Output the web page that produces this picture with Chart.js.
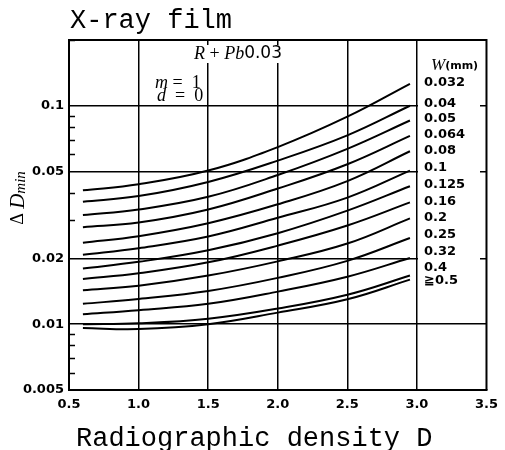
<!DOCTYPE html>
<html lang="en">
<head>
<meta charset="UTF-8">
<title>X-ray film</title>
<script src="https://cdn.jsdelivr.net/npm/chart.js"></script>
<style>
  html, body { margin: 0; padding: 0; background: #fff; }
</style>
</head>
<body>
<canvas id="chart" width="505" height="450"></canvas>
<script>
// radiographic density D where each curve was read
const density = [0.6, 1.0, 1.5, 2.0, 2.5, 2.95];

// Delta Dmin for each wire diameter W (mm)
const w0032 = [0.0410, 0.0437, 0.0505, 0.0647, 0.0891, 0.126];
const w004  = [0.0364, 0.0386, 0.0448, 0.0561, 0.0732, 0.100];
const w005  = [0.0316, 0.0335, 0.0383, 0.0482, 0.0635, 0.0856];
const w0064 = [0.0278, 0.0292, 0.0335, 0.0418, 0.0540, 0.0728];
const w008  = [0.0236, 0.0253, 0.0290, 0.0354, 0.0452, 0.0619];
const w01   = [0.0208, 0.0223, 0.0252, 0.0307, 0.0380, 0.0505];
const w0125 = [0.0180, 0.0193, 0.0218, 0.0261, 0.0331, 0.0428];
const w016  = [0.0161, 0.0171, 0.0192, 0.0229, 0.0283, 0.0361];
const w02   = [0.0143, 0.0150, 0.0167, 0.0194, 0.0234, 0.0305];
const w025  = [0.0124, 0.01305, 0.0142, 0.0163, 0.0195, 0.0248];
const w032  = [0.0111, 0.0116, 0.0124, 0.0141, 0.0165, 0.0201];
const w04   = [0.0100, 0.0101, 0.0106, 0.0118, 0.01365, 0.0167];
const w05   = [0.0096, 0.0095, 0.0100, 0.0113, 0.0130, 0.0160];

const seriesValues = [w0032, w004, w005, w0064, w008, w01, w0125, w016, w02, w025, w032, w04, w05];
const wireLabels = ['0.032', '0.04', '0.05', '0.064', '0.08', '0.1', '0.125', '0.16', '0.2', '0.25', '0.32', '0.4', '≧0.5'];

const xTicks = [0.5, 1.0, 1.5, 2.0, 2.5, 3.0, 3.5];
const yTicks = [0.005, 0.01, 0.02, 0.05, 0.1];
const yTickLabels = ['0.005', '0.01', '0.02', '0.05', '0.1'];
const yMinor = [0.006, 0.007, 0.008, 0.009, 0.03, 0.04, 0.06, 0.07, 0.08, 0.09, 0.2];

// label column placement (pixels)
const labelX = 424;
const labelY = [83, 104, 119, 135, 151, 168, 185, 202, 218, 235, 252, 268, 281];

const tickFont = { family: 'DejaVu Sans', size: 13, weight: 'bold' };

function drawParts(ctx, parts, x, y) {
  let cx = x;
  parts.forEach(p => {
    ctx.font = p.f;
    ctx.fillText(p.t, cx, y + (p.dy || 0));
    cx += ctx.measureText(p.t).width;
  });
  return cx - x;
}
function partsWidth(ctx, parts) {
  let w = 0;
  parts.forEach(p => { ctx.font = p.f; w += ctx.measureText(p.t).width; });
  return w;
}

const decor = {
  id: 'decor',
  afterDraw(chart) {
    const { ctx, chartArea: a, scales: { y } } = chart;
    ctx.save();
    ctx.strokeStyle = '#000';

    // blank column for the W labels (gridlines stop there)
    ctx.fillStyle = '#fff';
    ctx.fillRect(418, 60, 62, 237);

    // top and right frame
    ctx.lineWidth = 2;
    ctx.beginPath();
    ctx.moveTo(a.left, a.top);
    ctx.lineTo(a.right, a.top);
    ctx.lineTo(a.right, a.bottom);
    ctx.stroke();

    // minor ticks on the left axis
    ctx.lineWidth = 1.5;
    yMinor.forEach(v => {
      const py = Math.round(y.getPixelForValue(v)) + 0.5;
      ctx.beginPath();
      ctx.moveTo(a.left, py);
      ctx.lineTo(a.left + 6, py);
      ctx.stroke();
    });

    ctx.fillStyle = '#000';
    ctx.textBaseline = 'middle';
    ctx.textAlign = 'left';

    // W labels
    ctx.font = 'bold 13px "DejaVu Sans"';
    wireLabels.forEach((t, i) => ctx.fillText(t, labelX, labelY[i]));

    // W (mm) heading
    drawParts(ctx, [
      { t: 'W', f: 'italic 17px "Liberation Serif"' },
      { t: '(mm)', f: 'bold 11px "DejaVu Sans"' }
    ], 431, 66);

    // R + Pb0.03 with white backing
    const rp = [
      { t: 'R', f: 'italic 18px "Liberation Serif"' },
      { t: ' + ', f: '18px "Liberation Serif"' },
      { t: 'Pb', f: 'italic 18px "Liberation Serif"' },
      { t: '0.03', f: '17px "DejaVu Sans"' }
    ];
    const rw = partsWidth(ctx, rp);
    ctx.fillStyle = '#fff';
    ctx.fillRect(238 - rw / 2 - 2, 45, rw + 4, 18);
    ctx.fillStyle = '#000';
    drawParts(ctx, rp, 238 - rw / 2, 54);

    // m = 1, d = 0
    drawParts(ctx, [
      { t: 'm', f: 'italic 18px "Liberation Serif"' },
      { t: ' =  1', f: '18px "Liberation Serif"' }
    ], 155, 83);
    drawParts(ctx, [
      { t: 'd', f: 'italic 18px "Liberation Serif"' },
      { t: '  =  0', f: '18px "Liberation Serif"' }
    ], 157, 96);

    // titles
    ctx.textBaseline = 'alphabetic';
    ctx.font = '27px "Liberation Mono"';
    ctx.fillText('X-ray film', 70, 28);
    ctx.fillText('Radiographic density D', 76, 446);

    // y axis title, rotated
    ctx.translate(18, 198);
    ctx.rotate(-Math.PI / 2);
    const yt = [
      { t: 'Δ ', f: '18px "Liberation Serif"' },
      { t: 'D', f: 'italic 21px "Liberation Serif"' },
      { t: 'min', f: 'italic 15px "Liberation Serif"', dy: 3 }
    ];
    const yw = partsWidth(ctx, yt);
    ctx.textBaseline = 'middle';
    drawParts(ctx, yt, -yw / 2, 0);

    ctx.restore();
  }
};

const datasets = seriesValues.map((vals, i) => ({
  label: wireLabels[i],
  data: density.map((d, j) => ({ x: d, y: vals[j] })),
  borderColor: '#000',
  borderWidth: 2,
  pointRadius: 0,
  fill: false,
  tension: 0.4
}));

new Chart(document.getElementById('chart').getContext('2d'), {
  type: 'line',
  data: { datasets: datasets },
  options: {
    responsive: false,
    animation: false,
    layout: { padding: { top: 40, right: 11, left: 0, bottom: 0 } },
    plugins: { legend: { display: false }, tooltip: { enabled: false } },
    scales: {
      x: {
        type: 'linear',
        min: 0.5,
        max: 3.5,
        afterBuildTicks: s => { s.ticks = xTicks.map(v => ({ value: v })); },
        afterFit: s => { s.height = 60; },
        ticks: {
          callback: v => Number(v).toFixed(1),
          font: tickFont,
          color: '#000',
          padding: 7,
          maxRotation: 0,
          autoSkip: false
        },
        grid: {
          color: c => (c.tick && (c.tick.value === 0.5 || c.tick.value === 3.5)) ? 'rgba(0,0,0,0)' : '#000',
          lineWidth: 1.5,
          drawTicks: false
        },
        border: { color: '#000', width: 2 }
      },
      y: {
        type: 'logarithmic',
        min: 0.005,
        max: 0.2,
        afterBuildTicks: s => { s.ticks = yTicks.map(v => ({ value: v })); },
        afterFit: s => { s.width = 69; },
        ticks: {
          callback: (v, i) => yTickLabels[i],
          font: tickFont,
          color: '#000',
          padding: 5,
          autoSkip: false
        },
        grid: {
          color: c => (c.tick && c.tick.value === 0.005) ? 'rgba(0,0,0,0)' : '#000',
          lineWidth: 1.5,
          drawTicks: false
        },
        border: { color: '#000', width: 2 }
      }
    }
  },
  plugins: [decor]
});
</script>
</body>
</html>
